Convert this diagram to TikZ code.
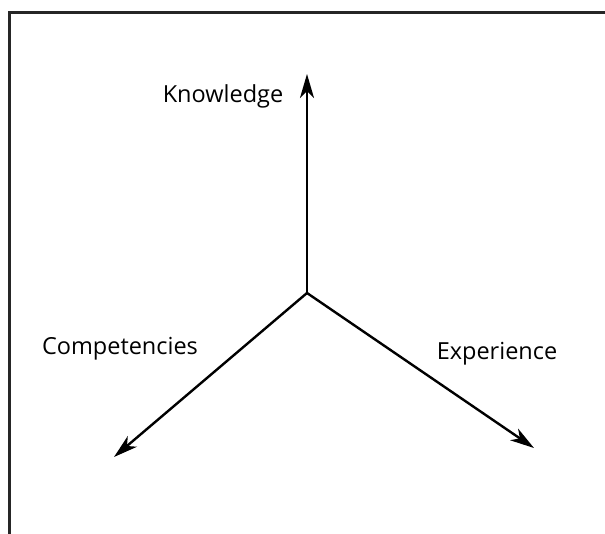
\documentclass[tikz,border=0pt]{standalone}
\usepackage{fontspec}
\setmainfont{Open Sans}
\usetikzlibrary{arrows.meta}

\begin{document}
\begin{tikzpicture}[x=1pt, y=-1pt,
	axis/.style={line width=2.4pt, -{Stealth[length=24pt, width=14pt, inset=7pt]}},
	label/.style={inner sep=0pt, anchor=base, font=\fontsize{23.5}{28}\selectfont}]

	\useasboundingbox (0, 0) rectangle (605, 534);
	\draw[line width=3pt, black!85] (9, 534) -- (9, 13) -- (605, 13);

	\coordinate (O) at (307, 293);
	\coordinate (K) at (307, 74);
	\coordinate (C) at (114, 457);
	\coordinate (E) at (534, 448);

	\node[label] at (223, 103) (know){Knowledge};
	\node[label] at (120, 355) (comp){Competencies};
	\node[label] at (497, 360) (exp){Experience};

	\draw[axis] (O) -- (K);
	\draw[axis] (O) -- (C);
	\draw[axis] (O) -- (E);
\end{tikzpicture}
\end{document}
